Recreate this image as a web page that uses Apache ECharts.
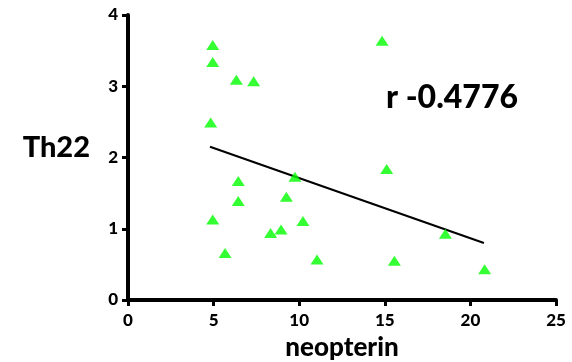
<!DOCTYPE html>
<html><head><meta charset="utf-8">
<script src="https://cdn.jsdelivr.net/npm/echarts@6/dist/echarts.min.js"></script>
<style>html,body{margin:0;padding:0;background:#fff}#c{width:572px;height:362px}</style>
</head><body><div id="c"></div>
<script>
const neopterin = [4.95,4.95,6.33,7.34,4.83,14.84,15.11,6.44,6.44,4.95,5.67,8.33,8.94,9.25,9.75,10.22,11.04,15.56,18.54,20.83];
const th22 =      [3.58,3.34,3.09,3.07,2.49,3.64,1.84,1.67,1.39,1.13,0.66,0.94,0.99,1.45,1.73,1.11,0.57,0.55,0.93,0.43];
const fitX = [4.79, 20.79];
const fitY = [2.15, 0.80];
const xTicks = [0,5,10,15,20,25];
const yTicks = [0,1,2,3,4];
const rLabel = 'r -0.4776';
const xName = 'neopterin';
const yName = 'Th22';

const font = 'Lato, "Open Sans", sans-serif';
const chart = echarts.init(document.getElementById('c'), null, {renderer:'canvas'});
chart.setOption({
  animation:false,
  backgroundColor:'#fff',
  grid:{left:128,right:16,top:15,bottom:62,containLabel:false,outerBoundsMode:'none'},
  xAxis:{type:'value',min:xTicks[0],max:xTicks[xTicks.length-1],interval:5,
    axisLine:{lineStyle:{color:'#000',width:4}},
    axisTick:{show:true,inside:false,length:6,lineStyle:{color:'#000',width:3}},
    splitLine:{show:false},
    axisLabel:{color:'#000',fontFamily:font,fontWeight:'900',fontSize:17,margin:12},
    name:xName,nameLocation:'middle',nameGap:35,
    nameTextStyle:{color:'#000',fontFamily:font,fontWeight:'900',fontSize:26}},
  yAxis:{type:'value',min:yTicks[0],max:yTicks[yTicks.length-1],interval:1,
    axisLine:{show:true,lineStyle:{color:'#000',width:4}},
    axisTick:{show:true,inside:false,length:6,lineStyle:{color:'#000',width:3}},
    splitLine:{show:false},
    axisLabel:{color:'#000',fontFamily:font,fontWeight:'900',fontSize:17,margin:10},
    name:yName,nameLocation:'middle',nameGap:38,nameRotate:0,
    nameTextStyle:{color:'#000',fontFamily:font,fontWeight:'900',fontSize:29,verticalAlign:'bottom',lineHeight:20}},
  graphic:[{type:'text',x:386,y:98,style:{text:rLabel,fill:'#000',font:'900 32px '+font,verticalAlign:'middle'}}],
  series:[
    {type:'line',data:fitX.map((x,i)=>[x,fitY[i]]),symbol:'none',
     lineStyle:{color:'#000',width:2},z:3},
    {type:'scatter',data:neopterin.map((x,i)=>[x,th22[i]]),symbol:'triangle',symbolSize:[13,10],
     itemStyle:{color:'#00ff00'},z:4}
  ]
});
</script></body></html>
